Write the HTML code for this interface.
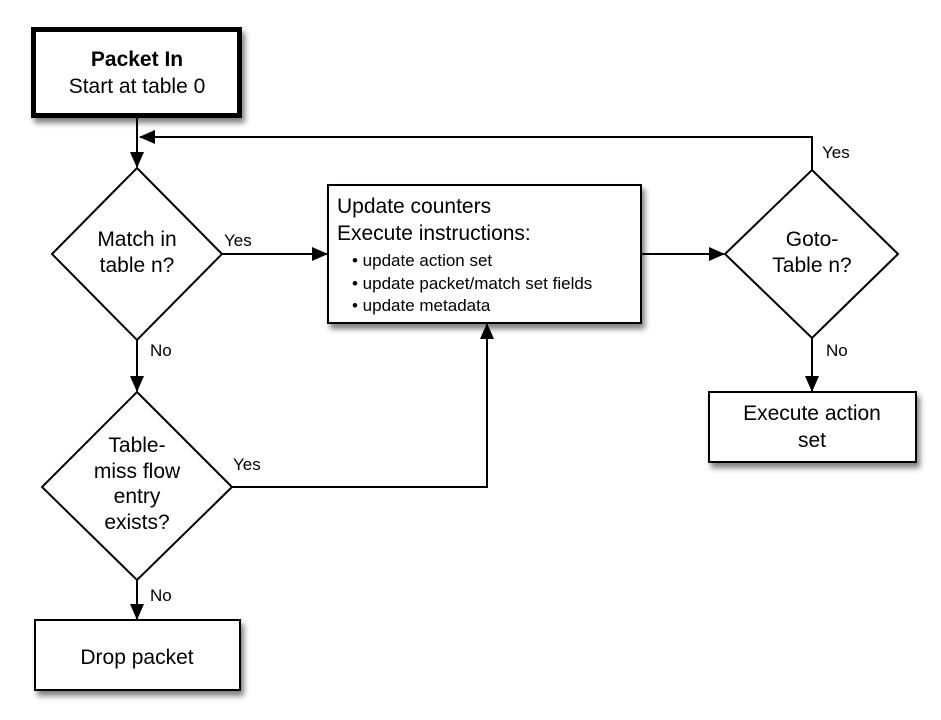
<!DOCTYPE html>
<html><head><meta charset="utf-8"><style>
body{margin:0;background:#fff;}
svg{display:block;font-family:"Liberation Sans",sans-serif;}
</style></head><body>
<svg width="941" height="720" viewBox="0 0 941 720" xmlns="http://www.w3.org/2000/svg">
<defs>
<filter id="sh" x="-20%" y="-20%" width="150%" height="160%">
<feGaussianBlur in="SourceAlpha" stdDeviation="3"/>
<feOffset dx="3" dy="5"/>
<feComponentTransfer><feFuncA type="linear" slope="0.5"/></feComponentTransfer>
<feMerge><feMergeNode/><feMergeNode in="SourceGraphic"/></feMerge>
</filter>
<marker id="a" markerWidth="16" markerHeight="14" refX="15" refY="7" orient="auto" markerUnits="userSpaceOnUse">
<path d="M0,0 L16,7 L0,14 z" fill="#000"/>
</marker>
</defs>
<g stroke="#000" stroke-width="2" fill="none">
<line x1="137" y1="118" x2="137" y2="167" marker-end="url(#a)"/>
<polyline points="812,170 812,137 140,137" marker-end="url(#a)"/>
<line x1="222" y1="254" x2="327" y2="254" marker-end="url(#a)"/>
<line x1="641" y1="254" x2="724" y2="254" marker-end="url(#a)"/>
<line x1="812" y1="338" x2="812" y2="391" marker-end="url(#a)"/>
<line x1="137" y1="340" x2="137" y2="391" marker-end="url(#a)"/>
<polyline points="232,487 487,487 487,324" marker-end="url(#a)"/>
<line x1="137" y1="580" x2="137" y2="619" marker-end="url(#a)"/>
</g>
<g fill="#fff" stroke="#000" filter="url(#sh)">
<rect x="33.5" y="29.5" width="206" height="86" stroke-width="5"/>
<rect x="328" y="185" width="313" height="138" stroke-width="2"/>
<rect x="709" y="392" width="207" height="70" stroke-width="2"/>
<rect x="35" y="620" width="205" height="70" stroke-width="2"/>
</g>
<g fill="#fff" stroke="#000" stroke-width="2">
<polygon points="137,168 222,254 137,340 52,254"/>
<polygon points="812,170 898,254 812,338 725,254"/>
<polygon points="137,392 232,487 137,580 42,487"/>
</g>
<g fill="#000" font-size="21" text-anchor="middle">
<text x="137" y="66" font-weight="bold">Packet In</text>
<text x="137" y="93">Start at table 0</text>
<text x="137" y="246">Match in</text>
<text x="137" y="272">table n?</text>
<text x="812" y="246">Goto-</text>
<text x="812" y="272">Table n?</text>
<text x="137" y="452">Table-</text>
<text x="137" y="478">miss flow</text>
<text x="137" y="503">entry</text>
<text x="137" y="529">exists?</text>
<text x="812" y="420">Execute action</text>
<text x="812" y="447">set</text>
<text x="137" y="664">Drop packet</text>
</g>
<g fill="#000" font-size="21">
<text x="337" y="213">Update counters</text>
<text x="337" y="240">Execute instructions:</text>
</g>
<g fill="#000" font-size="17">
<text x="352" y="266">• update action set</text>
<text x="352" y="289">• update packet/match set fields</text>
<text x="352" y="311">• update metadata</text>
</g>
<g fill="#000" font-size="17">
<text x="224" y="246">Yes</text>
<text x="822" y="158">Yes</text>
<text x="826" y="356">No</text>
<text x="150" y="356">No</text>
<text x="233" y="470">Yes</text>
<text x="150" y="601">No</text>
</g>
</svg>
</body></html>
